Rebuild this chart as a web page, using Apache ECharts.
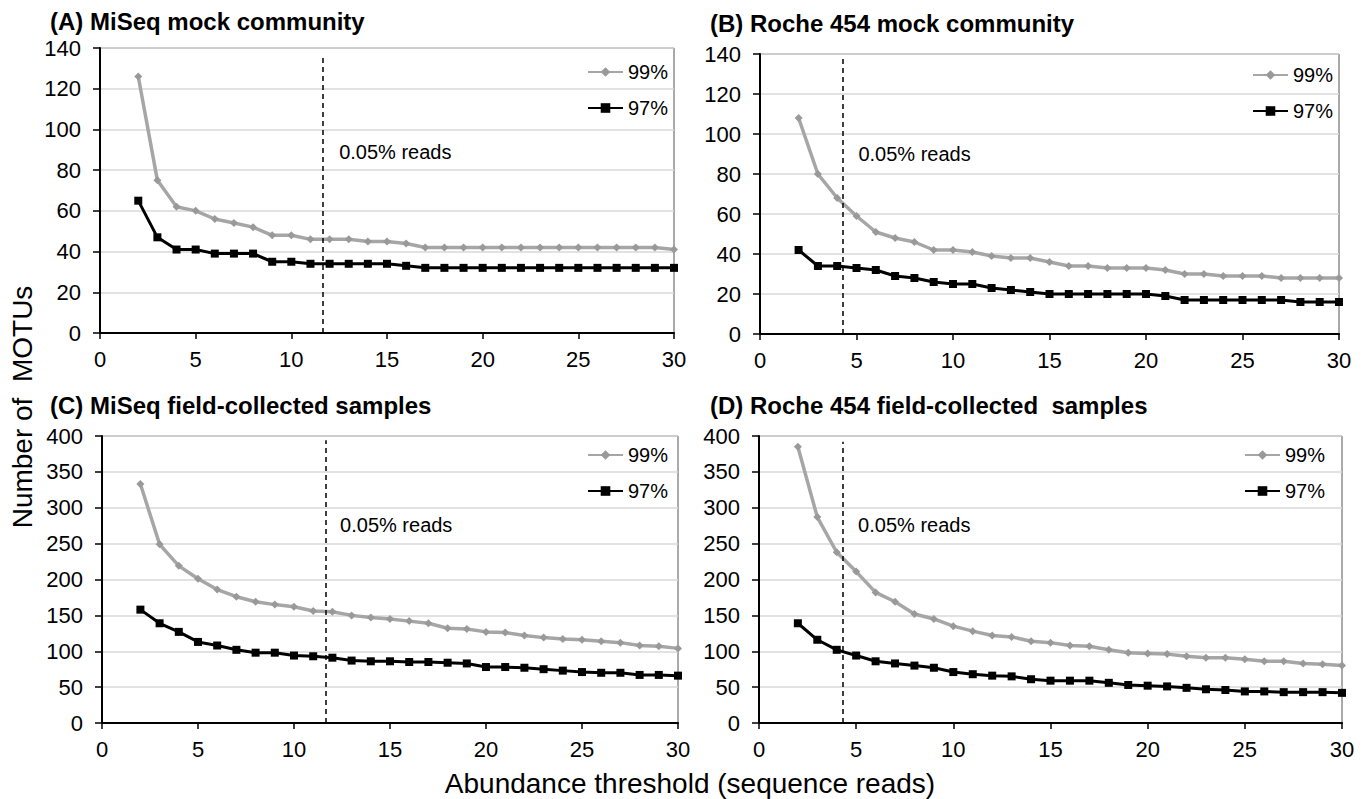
<!DOCTYPE html>
<html>
<head>
<meta charset="utf-8">
<script src="https://cdn.jsdelivr.net/npm/echarts@6/dist/echarts.min.js"></script>
<style>
html,body{margin:0;padding:0;background:#fff;}
#chart{width:1369px;height:799px;}
</style>
</head>
<body>
<div id="chart"></div>
<script>
// ---- data ----
var thresholds = [2,3,4,5,6,7,8,9,10,11,12,13,14,15,16,17,18,19,20,21,22,23,24,25,26,27,28,29,30];

var miseqMock99 = [126,75,62,60,56,54,52,48,48,46,46,46,45,45,44,42,42,42,42,42,42,42,42,42,42,42,42,42,41];
var miseqMock97 = [65,47,41,41,39,39,39,35,35,34,34,34,34,34,33,32,32,32,32,32,32,32,32,32,32,32,32,32,32];

var rocheMock99 = [108,80,68,59,51,48,46,42,42,41,39,38,38,36,34,34,33,33,33,32,30,30,29,29,29,28,28,28,28];
var rocheMock97 = [42,34,34,33,32,29,28,26,25,25,23,22,21,20,20,20,20,20,20,19,17,17,17,17,17,17,16,16,16];

var miseqField99 = [333,249,219,201,186,176,169,165,162,156,155,150,147,145,142,139,132,131,127,126,122,119,117,116,114,112,108,107,104];
var miseqField97 = [158,139,127,113,108,102,98,98,94,93,91,87,86,86,85,85,84,83,78,78,77,75,73,71,70,70,67,67,66];

var rocheField99 = [385,287,238,211,182,169,152,145,135,128,122,120,114,112,108,107,102,98,97,96,93,91,91,89,86,86,83,82,80];
var rocheField97 = [139,116,102,94,86,83,80,77,71,68,66,65,61,59,59,59,56,53,52,51,49,47,46,44,44,43,43,43,42];

var panelTitles = ['(A) MiSeq mock community', '(B) Roche 454 mock community',
                   '(C) MiSeq field-collected samples', '(D) Roche 454 field-collected  samples'];
var seriesNames = ['99%', '97%'];
var yMax = [140, 140, 400, 400];
var yStep = [20, 20, 50, 50];
var xTicks = [0, 30, 5];           // min, max, interval
var cutoffX = [11.65, 4.3, 11.65, 4.3];   // 0.05% reads threshold
var cutoffTop = [137, 139.5, 394, 392];
var noteLabel = '0.05% reads';
var notePos = [[12.5, 89], [5.1, 90], [12.4, 276], [5.1, 276]];
var xName = 'Abundance threshold (sequence reads)';
var yName = 'Number of  MOTUs';

// ---- layout ----
var grids = [
  {left:100, top:48, width:574, height:285},
  {left:760, top:54, width:579, height:280},
  {left:102, top:436, width:576, height:287},
  {left:759, top:436, width:583, height:287}
];
var legendPos = [[587,62],[1252,65],[587,445],[1244,445]];
var titlePos = [[50,21],[710,23],[50,405],[710,405]];

var FONT = '"Liberation Sans", Arial, sans-serif';
var data99 = [miseqMock99, rocheMock99, miseqField99, rocheField99];
var data97 = [miseqMock97, rocheMock97, miseqField97, rocheField97];

function pairs(arr){ return thresholds.map(function(t,i){ return [t, arr[i]]; }); }

var option = {
  animation:false,
  backgroundColor:'#fff',
  grid: grids.map(function(g){ return Object.assign({show:true, borderColor:'#555', borderWidth:1, backgroundColor:'transparent'}, g); }),
  xAxis: grids.map(function(g,i){ return {
    type:'value', gridIndex:i, min:xTicks[0], max:xTicks[1], interval:xTicks[2],
    axisLine:{show:true, onZero:false, lineStyle:{color:'#000', width:2}},
    axisTick:{show:true, inside:false, length:6, lineStyle:{color:'#000', width:1.5}},
    axisLabel:{fontFamily:FONT, fontSize:22, color:'#000', margin:15},
    splitLine:{show:false}
  };}),
  yAxis: grids.map(function(g,i){ return {
    type:'value', gridIndex:i, min:0, max:yMax[i], interval:yStep[i],
    axisLine:{show:true, onZero:false, lineStyle:{color:'#000', width:2}},
    axisTick:{show:true, inside:false, length:7, lineStyle:{color:'#000', width:1.5}},
    axisLabel:{fontFamily:FONT, fontSize:22, color:'#000', margin:19},
    splitLine:{show:true, lineStyle:{color:'#d9d9d9', width:1.5}}
  };}),
  legend: legendPos.map(function(p){ return {
    orient:'vertical', left:p[0], top:p[1], padding:0,
    itemWidth:35, itemHeight:12, itemGap:16, selectedMode:false,
    data:seriesNames,
    textStyle:{fontFamily:FONT, fontSize:20, color:'#000'}
  };}),
  series: []
};

for (var i=0;i<4;i++){
  option.series.push({
    name:seriesNames[0], type:'line', xAxisIndex:i, yAxisIndex:i,
    data:pairs(data99[i]), symbol:'diamond', symbolSize:8, showSymbol:true,
    lineStyle:{color:'#a6a6a6', width:3.5}, itemStyle:{color:'#999'}, z:3
  });
  option.series.push({
    name:seriesNames[1], type:'line', xAxisIndex:i, yAxisIndex:i,
    data:pairs(data97[i]), symbol:'rect', symbolSize:8, showSymbol:true,
    lineStyle:{color:'#000', width:3}, itemStyle:{color:'#000'}, z:4,
    markLine:{
      silent:true, symbol:'none', animation:false,
      label:{show:false},
      lineStyle:{color:'#000', width:1.5, type:[5,4]},
      data:[[{coord:[cutoffX[i],0]},{coord:[cutoffX[i],cutoffTop[i]]}]]
    }
  });
}

var chart = echarts.init(document.getElementById('chart'), null, {renderer:'svg'});
chart.setOption(option);

var graphics = [];
panelTitles.forEach(function(t,i){
  graphics.push({type:'text', silent:true, style:{
    text:t, x:titlePos[i][0], y:titlePos[i][1],
    font:'bold 24px ' + FONT, fill:'#000',
    align:'left', verticalAlign:'middle', textAlign:'left', textVerticalAlign:'middle'
  }});
});
notePos.forEach(function(p,i){
  var px = chart.convertToPixel({gridIndex:i}, p);
  graphics.push({type:'text', silent:true, style:{
    text:noteLabel, x:px[0], y:px[1],
    font:'20px ' + FONT, fill:'#000',
    align:'left', verticalAlign:'middle', textAlign:'left', textVerticalAlign:'middle'
  }});
});
graphics.push({type:'text', silent:true, style:{
  text:xName, x:690, y:783, font:'28px ' + FONT, fill:'#000',
  align:'center', verticalAlign:'middle', textAlign:'center', textVerticalAlign:'middle'
}});
graphics.push({type:'text', silent:true, rotation:Math.PI/2, x:22, y:407, style:{
  text:yName, x:0, y:0, font:'28px ' + FONT, fill:'#000',
  align:'center', verticalAlign:'middle', textAlign:'center', textVerticalAlign:'middle'
}});
chart.setOption({graphic:graphics});
</script>
</body>
</html>
